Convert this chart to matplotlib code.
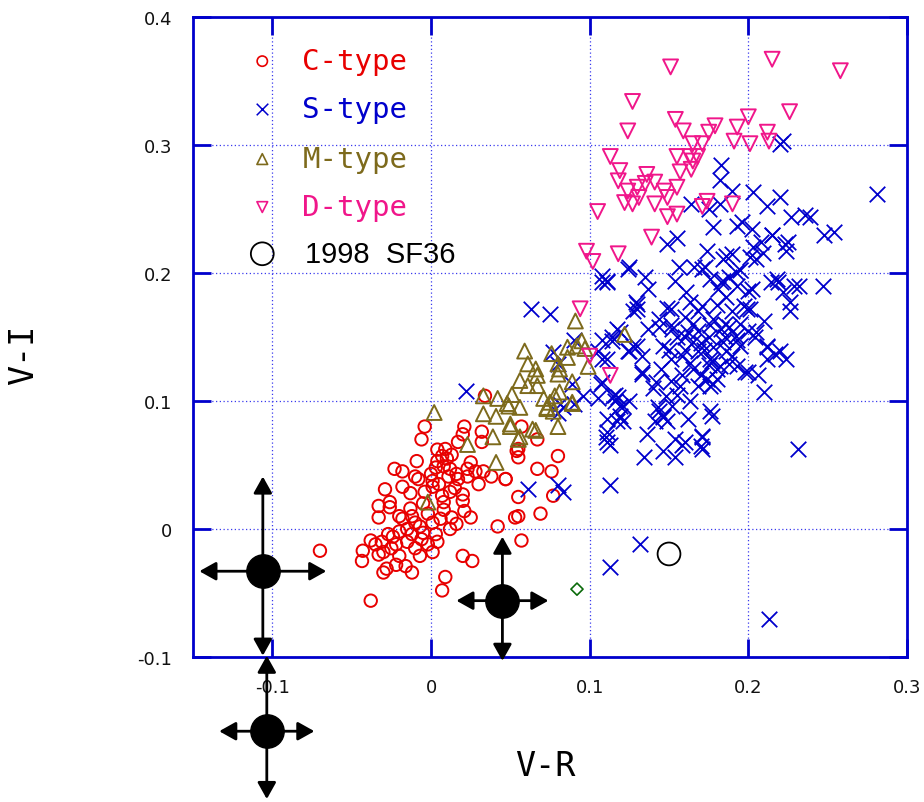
import numpy as np
import matplotlib
matplotlib.use("Agg")
import matplotlib.pyplot as plt

# (V-R, V-I) pairs
c_type = np.array([
    (-0.004, 0.080), (-0.006, 0.070), (0.021, 0.080), (0.020, 0.074), (0.017, 0.068),
    (0.009, 0.0625), (0.007, 0.057), (0.004, 0.053), (0.010, 0.055), (0.003, 0.048),
    (0.008, 0.049), (0.012, 0.047), (-0.009, 0.053), (-0.023, 0.047), (-0.018, 0.045),
    (-0.010, 0.041), (-0.008, 0.039), (0.016, 0.043), (0.017, 0.039), (0.023, 0.047),
    (0.028, 0.045), (0.023, 0.041), (0.033, 0.045), (0.038, 0.041), (0.047, 0.039),
    (0.001, 0.0375), (0.001, 0.033), (0.011, 0.041), (-0.029, 0.031), (-0.018, 0.033),
    (-0.004, 0.029), (0.007, 0.026), (0.012, 0.029), (0.020, 0.027), (0.020, 0.022),
    (0.008, 0.021), (-0.033, 0.018), (-0.026, 0.021), (-0.026, 0.017), (-0.013, 0.016),
    (-0.012, 0.010), (0.021, 0.014), (0.025, 0.009), (0.013, 0.009), (0.006, 0.008),
    (0.001, 0.005), (-0.033, 0.009), (-0.018, 0.008), (-0.007, 0.002), (0.016, 0.004),
    (-0.015, 0.000), (-0.012, -0.004), (-0.020, -0.002), (-0.024, -0.006), (-0.027, -0.004),
    (-0.038, -0.009), (-0.031, -0.010), (-0.006, -0.008), (0.004, -0.010), (0.001, -0.018),
    (-0.043, -0.017), (-0.0435, -0.025), (-0.030, -0.018), (-0.020, -0.021), (-0.007, -0.021),
    (-0.016, -0.029), (-0.028, -0.031), (-0.030, -0.034), (-0.012, -0.034), (0.020, -0.021),
    (0.026, -0.025), (0.009, -0.0375), (0.007, -0.048), (-0.038, -0.056), (0.042, 0.002),
    (0.053, 0.009), (-0.070, -0.017), (0.034, 0.104), (0.032, 0.076), (0.032, 0.068),
    (0.054, 0.061), (0.055, 0.056), (0.067, 0.070), (0.080, 0.057), (0.067, 0.047),
    (0.076, 0.045), (0.055, 0.025), (0.077, 0.026), (0.055, 0.010), (0.069, 0.012),
    (0.057, -0.009), (0.047, 0.039), (0.057, 0.080), (0.055, 0.0625),
    (-0.020, 0.010), (-0.010, 0.005), (-0.005, -0.003), (-0.015, -0.010), (-0.022, -0.012),
    (-0.002, 0.012), (0.003, -0.004), (-0.025, -0.015), (-0.010, -0.015), (0.008, 0.015),
    (0.005, 0.035), (0.015, 0.032), (0.000, 0.043), (-0.005, 0.020), (-0.035, -0.012),
    (-0.033, -0.020), (-0.022, -0.028), (0.012, 0.000), (0.030, 0.035), (0.025, 0.052),
    (0.004, 0.062), (0.013, 0.058), (-0.013, 0.028), (-0.002, -0.012),
])

s_type = np.array([
    (0.222, 0.303), (0.220, 0.301), (0.183, 0.284), (0.182, 0.273), (0.190, 0.264),
    (0.203, 0.263), (0.220, 0.259), (0.212, 0.252), (0.281, 0.262), (0.164, 0.254),
    (0.175, 0.250), (0.182, 0.254), (0.239, 0.244), (0.236, 0.245), (0.227, 0.244),
    (0.178, 0.236), (0.193, 0.237), (0.202, 0.234), (0.248, 0.230), (0.254, 0.232),
    (0.149, 0.223), (0.155, 0.227), (0.215, 0.230), (0.208, 0.224), (0.225, 0.224),
    (0.224, 0.217), (0.203, 0.220), (0.174, 0.217), (0.186, 0.213), (0.190, 0.215),
    (0.201, 0.2125), (0.209, 0.216), (0.108, 0.198), (0.111, 0.194), (0.124, 0.203),
    (0.135, 0.197), (0.137, 0.1875), (0.129, 0.177), (0.130, 0.172), (0.154, 0.194),
    (0.156, 0.205), (0.166, 0.205), (0.171, 0.203), (0.176, 0.195), (0.181, 0.1875),
    (0.183, 0.193), (0.188, 0.197), (0.186, 0.181), (0.195, 0.202), (0.193, 0.190),
    (0.202, 0.1875), (0.197, 0.174), (0.201, 0.172), (0.214, 0.193), (0.218, 0.195),
    (0.222, 0.185), (0.232, 0.190), (0.247, 0.190), (0.226, 0.177), (0.226, 0.170),
    (0.210, 0.1625), (0.161, 0.185), (0.163, 0.177), (0.151, 0.172), (0.168, 0.170),
    (0.178, 0.164), (0.176, 0.159), (0.144, 0.164), (0.152, 0.156), (0.162, 0.154),
    (0.165, 0.146), (0.168, 0.139), (0.183, 0.156), (0.184, 0.146), (0.192, 0.151),
    (0.195, 0.143), (0.205, 0.154), (0.212, 0.143), (0.212, 0.133), (0.224, 0.133),
    (0.217, 0.137), (0.146, 0.143), (0.151, 0.133), (0.158, 0.135), (0.176, 0.133),
    (0.180, 0.125), (0.188, 0.129), (0.198, 0.123), (0.206, 0.120), (0.133, 0.123),
    (0.142, 0.115), (0.151, 0.116), (0.157, 0.112), (0.168, 0.112), (0.176, 0.112),
    (0.180, 0.117), (0.210, 0.107), (0.130, 0.143), (0.125, 0.139), (0.114, 0.150),
    (0.119, 0.154), (0.105, 0.139), (0.108, 0.133), (0.108, 0.115), (0.096, 0.104),
    (0.115, 0.104), (0.121, 0.096), (0.125, 0.100), (0.119, 0.088), (0.121, 0.084),
    (0.143, 0.095), (0.146, 0.088), (0.141, 0.084), (0.162, 0.086), (0.176, 0.092),
    (0.177, 0.088), (0.151, 0.159), (0.160, 0.166), (0.171, 0.174), (0.137, 0.156),
    (0.144, 0.158), (0.199, 0.172), (0.188, 0.158), (0.193, 0.148), (0.186, 0.139),
    (0.177, 0.131), (0.182, 0.127), (0.193, 0.127), (0.200, 0.123), (0.174, 0.117),
    (0.178, 0.113), (0.171, 0.073), (0.170, 0.065), (0.160, 0.068), (0.231, 0.0625),
    (0.204, 0.150), (0.212, 0.142), (0.220, 0.139), (0.118, 0.103), (0.116, 0.100),
    (0.117, 0.084), (0.111, 0.076), (0.110, 0.072), (0.113, 0.066), (0.136, 0.074),
    (0.134, 0.056), (0.146, 0.0875), (0.144, 0.092), (0.149, 0.084), (0.152, 0.096),
    (0.154, 0.070), (0.158, 0.066), (0.146, 0.061), (0.154, 0.056), (0.171, 0.072),
    (0.171, 0.0625), (0.113, 0.034), (0.111, 0.193), (0.130, 0.176), (0.149, 0.173),
    (0.117, 0.156), (0.114, 0.147), (0.127, 0.143), (0.133, 0.135), (0.133, 0.121),
    (0.196, 0.240), (0.215, 0.230), (0.223, 0.223), (0.184, 0.211), (0.205, 0.211),
    (0.125, 0.205), (0.200, 0.186), (0.219, 0.193), (0.229, 0.190), (0.192, 0.201),
    (0.184, 0.194), (0.173, 0.205), (0.063, 0.172), (0.022, 0.108), (0.075, 0.168),
    (0.090, 0.148), (0.077, 0.138), (0.080, 0.129), (0.089, 0.113), (0.083, 0.095),
    (0.080, 0.091), (0.108, 0.193), (0.127, 0.170), (0.108, 0.148), (0.124, 0.139),
    (0.111, 0.133), (0.107, 0.113), (0.116, 0.105), (0.119, 0.096), (0.111, 0.086),
    (0.111, 0.068), (0.081, 0.098), (0.090, 0.098), (0.105, 0.102), (0.061, 0.031),
    (0.080, 0.034), (0.083, 0.029), (0.113, -0.030), (0.132, -0.012), (0.213, -0.070),
    (0.160, 0.150), (0.165, 0.160), (0.170, 0.145), (0.175, 0.150), (0.168, 0.155),
    (0.172, 0.140), (0.160, 0.140), (0.155, 0.150), (0.178, 0.142), (0.165, 0.125),
    (0.158, 0.120), (0.170, 0.120), (0.163, 0.130), (0.175, 0.128), (0.150, 0.140),
    (0.145, 0.125), (0.185, 0.160), (0.190, 0.170), (0.180, 0.175), (0.195, 0.160),
    (0.200, 0.155), (0.185, 0.150), (0.190, 0.135), (0.155, 0.105), (0.163, 0.100),
    (0.140, 0.110), (0.148, 0.104),
])

m_type = np.array([
    (0.091, 0.1625), (0.095, 0.147), (0.092, 0.143), (0.086, 0.142), (0.086, 0.134),
    (0.099, 0.127), (0.122, 0.152), (0.059, 0.139), (0.061, 0.129), (0.066, 0.125),
    (0.067, 0.120), (0.076, 0.137), (0.080, 0.129), (0.081, 0.125), (0.080, 0.121),
    (0.089, 0.115), (0.056, 0.116), (0.061, 0.112), (0.051, 0.105), (0.067, 0.112),
    (0.042, 0.102), (0.048, 0.098), (0.056, 0.095), (0.071, 0.102), (0.075, 0.099),
    (0.078, 0.104), (0.081, 0.107), (0.073, 0.094), (0.077, 0.092), (0.033, 0.090),
    (0.041, 0.088), (0.050, 0.080), (0.064, 0.078), (0.080, 0.080), (0.056, 0.072),
    (0.039, 0.072), (0.023, 0.066), (0.033, 0.104), (0.089, 0.099), (0.002, 0.091),
    (0.050, 0.082), (0.055, 0.070), (0.066, 0.077), (0.041, 0.052), (-0.002, 0.021),
    (0.049, 0.096), (0.073, 0.095), (0.097, 0.141), (0.089, 0.098),
])

d_type = np.array([
    (0.151, 0.361), (0.127, 0.334), (0.124, 0.311), (0.154, 0.320), (0.159, 0.311),
    (0.179, 0.315), (0.175, 0.310), (0.193, 0.314), (0.200, 0.322), (0.212, 0.310),
    (0.213, 0.303), (0.191, 0.303), (0.201, 0.301), (0.215, 0.367), (0.258, 0.358),
    (0.226, 0.326), (0.165, 0.301), (0.171, 0.301), (0.113, 0.291), (0.119, 0.280),
    (0.118, 0.272), (0.124, 0.264), (0.130, 0.267), (0.136, 0.277), (0.141, 0.271),
    (0.135, 0.270), (0.131, 0.259), (0.122, 0.255), (0.127, 0.254), (0.141, 0.254),
    (0.147, 0.264), (0.149, 0.259), (0.155, 0.267), (0.157, 0.279), (0.155, 0.291),
    (0.163, 0.291), (0.165, 0.2875), (0.168, 0.291), (0.164, 0.281), (0.105, 0.248),
    (0.174, 0.256), (0.190, 0.254), (0.149, 0.244), (0.155, 0.246), (0.139, 0.228),
    (0.171, 0.252), (0.098, 0.217), (0.102, 0.209), (0.118, 0.215), (0.094, 0.172),
    (0.100, 0.135), (0.113, 0.120),
])

sf36 = (0.150, -0.0195)
extra_point = (0.092, -0.047)

# error bar indicators: centre, x half-width, y up / down
err_x = [-0.106, 0.045, -0.1035]
err_y = [-0.033, -0.056, -0.158]
err_dx = [0.040, 0.029, 0.030]
err_up = [0.074, 0.050, 0.059]
err_down = [0.066, 0.047, 0.053]

red = '#e80000'
blue = '#0000cc'
olive = '#7d6a1c'
pink = '#f0168a'

fig = plt.figure(figsize=(9.24, 8.03), dpi=100)
ax = fig.add_axes([0.2089, 0.1806, 0.7727, 0.797])

ax.scatter(c_type[:, 0], c_type[:, 1], s=80, marker='o', facecolors='none',
           edgecolors=red, linewidths=1.4, zorder=3)
ax.scatter(s_type[:, 0], s_type[:, 1], s=125, marker='x', color=blue,
           linewidths=1.3, zorder=3)
ax.scatter(m_type[:, 0], m_type[:, 1], s=115, marker='^', facecolors='none',
           edgecolors=olive, linewidths=1.4, zorder=3)
ax.scatter(d_type[:, 0], d_type[:, 1], s=115, marker='v', facecolors='none',
           edgecolors=pink, linewidths=1.4, zorder=3)
ax.scatter([sf36[0]], [sf36[1]], s=270, marker='o', facecolors='none',
           edgecolors='black', linewidths=1.3, zorder=4)
ax.scatter([extra_point[0]], [extra_point[1]], s=38, marker='D', facecolors='none',
           edgecolors='#0a6a0a', linewidths=1.2, zorder=4)

arrow = dict(arrowstyle='-|>,head_length=0.5,head_width=0.28', color='black',
             lw=2, mutation_scale=20, shrinkA=0, shrinkB=0)
for x, y, dx, up, dn in zip(err_x, err_y, err_dx, err_up, err_down):
    for tx, ty in [(x - dx, y), (x + dx, y), (x, y + up), (x, y - dn)]:
        ax.annotate('', xy=(tx, ty), xytext=(x, y), arrowprops=arrow,
                    annotation_clip=False, zorder=5)
    ax.plot([x], [y], 'o', color='black', markersize=24, clip_on=False, zorder=6)

# legend drawn by hand
leg_items = [('C-type', 'o', red, 55), ('S-type', 'x', blue, 70),
             ('M-type', '^', olive, 60), ('D-type', 'v', pink, 60)]
leg_y = [0.931, 0.856, 0.778, 0.703]
for (lab, mk, col, sz), yy in zip(leg_items, leg_y):
    if mk == 'x':
        ax.scatter([0.097], [yy], s=sz, marker=mk, color=col, linewidths=1.1,
                   transform=ax.transAxes, zorder=5)
    else:
        ax.scatter([0.097], [yy], s=sz, marker=mk, facecolors='none', edgecolors=col,
                   linewidths=1.2, transform=ax.transAxes, zorder=5)
    ax.text(0.153, yy, lab, color=col, fontsize=21, family='DejaVu Sans Mono',
            va='center', ha='left', transform=ax.transAxes)
ax.scatter([0.097], [0.630], s=270, marker='o', facecolors='none', edgecolors='black',
           linewidths=1.3, transform=ax.transAxes, zorder=5)
ax.text(0.157, 0.630, '1998  SF36', color='black', fontsize=21, family='Liberation Sans',
        va='center', ha='left', transform=ax.transAxes)

ax.set_xlim(-0.15, 0.3)
ax.set_ylim(-0.1, 0.4)
xt = [-0.1, 0, 0.1, 0.2, 0.3]
yt = [-0.1, 0, 0.1, 0.2, 0.3, 0.4]
ax.set_xticks(xt)
ax.set_xticklabels(['-0.1', '0', '0.1', '0.2', '0.3'])
ax.set_yticks(yt)
ax.set_yticklabels(['-0.1', '0', '0.1', '0.2', '0.3', '0.4'])
ax.tick_params(direction='in', length=13, width=2, color=blue, top=True, right=True,
               labelsize=13, pad=15, labelcolor='#111111')
ax.grid(True, color='#3a3aee', linestyle=(0, (1, 2)), linewidth=0.9)
for sp in ax.spines.values():
    sp.set_color(blue)
    sp.set_linewidth(2)

ax.set_xlabel('V-R', fontsize=24, family='DejaVu Sans Mono')
ax.set_ylabel('V-I', fontsize=24, family='DejaVu Sans Mono')
ax.xaxis.set_label_coords(0.493, -0.144)
ax.yaxis.set_label_coords(-0.214, 0.473)

fig.savefig('out.png', dpi=100)
